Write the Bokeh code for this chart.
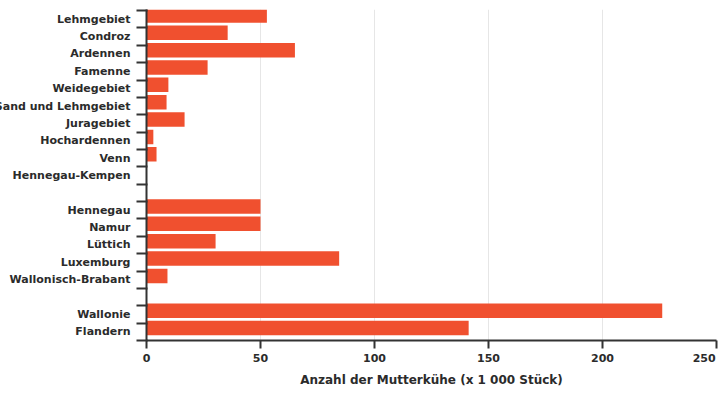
from bokeh.plotting import figure
from bokeh.models import Range1d, FixedTicker, ColumnDataSource
from bokeh.embed import file_html
from bokeh.resources import INLINE

categories = ["Lehmgebiet", "Condroz", "Ardennen", "Famenne", "Weidegebiet",
              "Sand und Lehmgebiet", "Juragebiet", "Hochardennen", "Venn",
              "Hennegau-Kempen", "", "Hennegau", "Namur", "Lüttich", "Luxemburg",
              "Wallonisch-Brabant", "", "Wallonie", "Flandern"]
values = [52.8, 35.6, 65.1, 26.8, 9.6, 8.8, 16.7, 3.0, 4.4,
          0.0, None, 50.0, 50.0, 30.3, 84.5, 9.2, None, 226.2, 141.3]
x_ticks = [0, 50, 100, 150, 200, 250]
x_title = "Anzahl der Mutterkühe (x 1 000 Stück)"

FONT = "DejaVu Sans"
TXT = "#2b2b2b"
AX = "#333333"

idx = [i for i, v in enumerate(values) if v is not None]
src = ColumnDataSource(dict(
    y=[i - 0.22 for i in idx],
    right=[values[i] for i in idx],
))

p = figure(width=737, height=399, output_backend="svg", toolbar_location=None,
           x_range=Range1d(0, 250), y_range=Range1d(18.5, -0.56),
           min_border_left=158, min_border_right=9, min_border_top=9,
           min_border_bottom=59)
p.margin = (0, 0, 0, -12)
p.outline_line_color = None
p.hbar(y="y", left=0, right="right", height=0.835, source=src,
       fill_color="#f0502f", line_color=None)

# x axis (last label padded so that it ends at the frame edge)
p.xaxis.ticker = FixedTicker(ticks=x_ticks)
p.xaxis.major_label_overrides = {x_ticks[-1]: str(x_ticks[-1]) + "\u00a0\u00a0\u2009"}
p.xaxis.axis_line_color = AX
p.xaxis.axis_line_width = 2
p.xaxis.major_tick_line_color = AX
p.xaxis.major_tick_line_width = 2
p.xaxis.major_tick_out = 8
p.xaxis.major_tick_in = 0
p.xaxis.minor_tick_line_color = None
p.xaxis.major_label_text_font = FONT
p.xaxis.major_label_text_font_style = "bold"
p.xaxis.major_label_text_font_size = "11px"
p.xaxis.major_label_text_color = TXT
p.xaxis.major_label_standoff = 3
p.xaxis.axis_label = x_title
p.xaxis.axis_label_text_font = FONT
p.xaxis.axis_label_text_font_style = "bold"
p.xaxis.axis_label_text_font_size = "12px"
p.xaxis.axis_label_text_color = TXT
p.xaxis.axis_label_standoff = 5

# y axis: labels at category centres, tick marks at boundaries
p.yaxis.ticker = FixedTicker(ticks=[i for i, c in enumerate(categories) if c],
                             minor_ticks=[i - 0.5 for i in range(len(categories) + 1)])
p.yaxis.major_label_overrides = {i: c for i, c in enumerate(categories) if c}
p.yaxis.axis_line_color = AX
p.yaxis.axis_line_width = 2
p.yaxis.major_tick_line_color = None
p.yaxis.major_tick_out = 10
p.yaxis.major_tick_in = 0
p.yaxis.minor_tick_line_color = AX
p.yaxis.minor_tick_line_width = 2
p.yaxis.minor_tick_out = 10
p.yaxis.minor_tick_in = 1
p.yaxis.major_label_text_font = FONT
p.yaxis.major_label_text_font_style = "bold"
p.yaxis.major_label_text_font_size = "11px"
p.yaxis.major_label_text_color = TXT
p.yaxis.major_label_standoff = 6

p.xgrid.ticker = FixedTicker(ticks=x_ticks[1:])
p.xgrid.grid_line_color = "#e6e6e6"
p.xgrid.grid_line_width = 1
p.ygrid.grid_line_color = None

open("out.html", "w").write(file_html(p, INLINE))
